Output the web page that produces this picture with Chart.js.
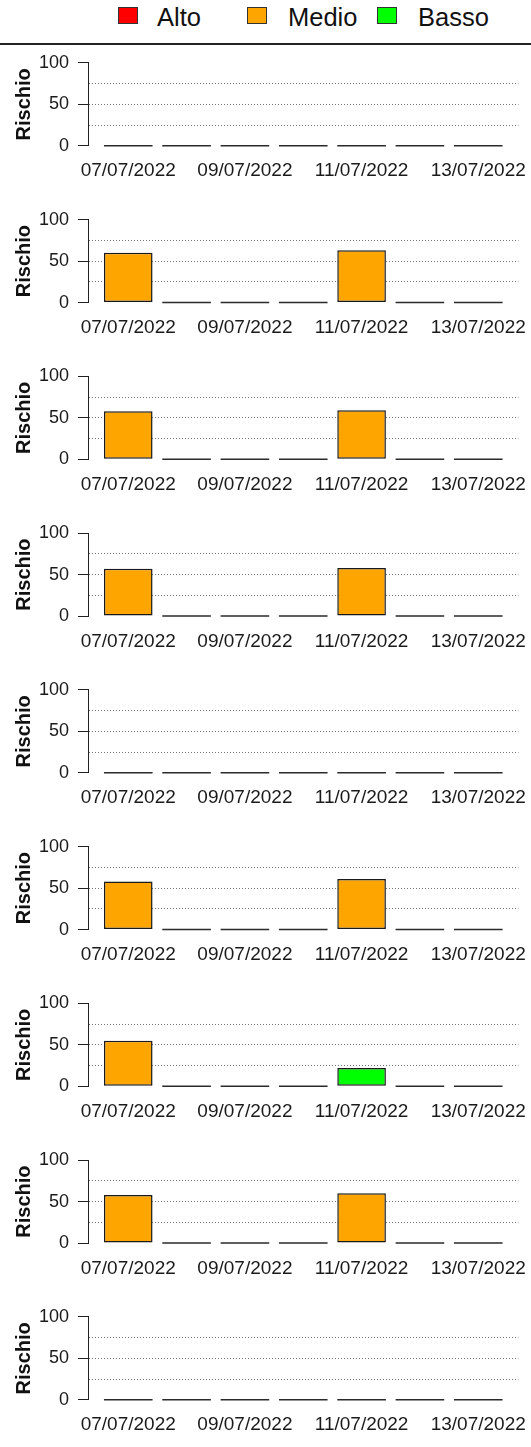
<!DOCTYPE html>
<html>
<head>
<meta charset="utf-8">
<script src="https://cdn.jsdelivr.net/npm/chart.js@4.4.0/dist/chart.umd.min.js"></script>
<style>
  body { margin: 0; width: 531px; height: 1447px; background: #fff; position: relative; overflow: hidden;
         font-family: "Liberation Sans", Arial, sans-serif; }
  .box { position: absolute; top: 7px; width: 18px; height: 15px; border: 1px solid #333; }
  .lab { position: absolute; top: 5px; font-size: 25.5px; line-height: 24px; color: #111; }
  #rule { position: absolute; left: 0; top: 43px; width: 531px; height: 2px; background: #222; }
  .panel { position: absolute; left: 0; width: 531px; height: 156px; }
</style>
</head>
<body>
<div id="legend"></div>
<div id="rule"></div>
<script>
// categories
const dates = ["07/07/2022", "08/07/2022", "09/07/2022", "10/07/2022", "11/07/2022", "12/07/2022", "13/07/2022"];
const riskLevels = ["Alto", "Medio", "Basso"];
const levelColors = ["#FF0000", "#FFA500", "#00FF00"];
const yTicks = [0, 25, 50, 75, 100];
const yLabels = [0, 50, 100];
const yDotted = [25, 50, 75];

// one pair of arrays per panel: risk value and risk level of each day
const values1 = [0, 0, 0, 0, 0, 0, 0];
const levels1 = ["Medio", "Medio", "Medio", "Medio", "Medio", "Medio", "Medio"];
const values2 = [60, 0, 0, 0, 63, 0, 0];
const levels2 = ["Medio", "Medio", "Medio", "Medio", "Medio", "Medio", "Medio"];
const values3 = [58, 0, 0, 0, 59, 0, 0];
const levels3 = ["Medio", "Medio", "Medio", "Medio", "Medio", "Medio", "Medio"];
const values4 = [57, 0, 0, 0, 58, 0, 0];
const levels4 = ["Medio", "Medio", "Medio", "Medio", "Medio", "Medio", "Medio"];
const values5 = [0, 0, 0, 0, 0, 0, 0];
const levels5 = ["Medio", "Medio", "Medio", "Medio", "Medio", "Medio", "Medio"];
const values6 = [58, 0, 0, 0, 61, 0, 0];
const levels6 = ["Medio", "Medio", "Medio", "Medio", "Medio", "Medio", "Medio"];
const values7 = [55, 0, 0, 0, 22, 0, 0];
const levels7 = ["Medio", "Medio", "Medio", "Medio", "Basso", "Medio", "Medio"];
const values8 = [58, 0, 0, 0, 60, 0, 0];
const levels8 = ["Medio", "Medio", "Medio", "Medio", "Medio", "Medio", "Medio"];
const values9 = [0, 0, 0, 0, 0, 0, 0];
const levels9 = ["Medio", "Medio", "Medio", "Medio", "Medio", "Medio", "Medio"];

const panels = [
  [values1, levels1], [values2, levels2], [values3, levels3],
  [values4, levels4], [values5, levels5], [values6, levels6],
  [values7, levels7], [values8, levels8], [values9, levels9]
];

// layout
const FONT = "'Liberation Sans', Arial, sans-serif";
const plotLeft = 88;
const plotRight = 518.5;
const areaTop0 = 62.8;     // y of the 100 line in the first panel
const areaH = 83;
const step = 156.75;
const panelH = 156;
const xAxisH = 40;

// legend
const legendBoxX = [118, 247, 377];
const legendTextX = [157, 288, 418];
const legend = document.getElementById("legend");
riskLevels.forEach((name, i) => {
  const b = document.createElement("div");
  b.className = "box";
  b.style.left = legendBoxX[i] + "px";
  b.style.background = levelColors[i];
  legend.appendChild(b);
  const t = document.createElement("div");
  t.className = "lab";
  t.style.left = legendTextX[i] + "px";
  t.textContent = name;
  legend.appendChild(t);
});

// R draws zero-height bars as a flat line
const zeroBars = {
  id: "zeroBars",
  afterDatasetsDraw(chart) {
    const ctx = chart.ctx;
    const ds = chart.data.datasets[0];
    chart.getDatasetMeta(0).data.forEach((bar, i) => {
      if (ds.data[i].y !== 0) return;
      const p = bar.getProps(["x", "y", "width"], true);
      ctx.save();
      ctx.strokeStyle = "#2a2a2a";
      ctx.lineWidth = 1.5;
      ctx.beginPath();
      ctx.moveTo(p.x - p.width / 2, p.y);
      ctx.lineTo(p.x + p.width / 2, p.y);
      ctx.stroke();
      ctx.restore();
    });
  }
};

const makePanel = (k, values, levels) => {
  const top = Math.floor(areaTop0 - 18 + k * step);
  const padTop = areaTop0 + k * step - top;
  const wrap = document.createElement("div");
  wrap.className = "panel";
  wrap.style.top = top + "px";
  const cv = document.createElement("canvas");
  wrap.appendChild(cv);
  document.body.appendChild(wrap);

  new Chart(cv, {
    type: "bar",
    data: {
      datasets: [{
        data: values.map((v, i) => ({ x: i, y: v })),
        backgroundColor: levels.map(l => levelColors[riskLevels.indexOf(l)]),
        borderColor: "#1a1a1a",
        borderWidth: 1.5,
        borderSkipped: false,
        barPercentage: 1 / 1.2,
        categoryPercentage: 1
      }]
    },
    options: {
      responsive: true,
      maintainAspectRatio: false,
      animation: false,
      layout: { padding: { top: padTop, left: 0, right: 531 - plotRight, bottom: panelH - padTop - areaH - xAxisH } },
      plugins: { legend: { display: false }, tooltip: { enabled: false } },
      scales: {
        x: {
          type: "linear",
          offset: false,
          min: -0.69,
          max: 6.69,
          afterBuildTicks: s => { s.ticks = dates.map((d, i) => ({ value: i })); },
          afterFit: s => { s.height = xAxisH; s.paddingLeft = 0; s.paddingRight = 0; },
          grid: { display: false, drawTicks: false },
          border: { display: false },
          ticks: {
            autoSkip: false, maxRotation: 0, padding: 14, color: "#1a1a1a",
            font: { family: FONT, size: 19 },
            callback: (v, i) => (i % 2 === 0 ? dates[v] : "")
          }
        },
        y: {
          min: 0,
          max: 100,
          afterBuildTicks: s => { s.ticks = yTicks.map(v => ({ value: v })); },
          afterFit: s => { s.width = plotLeft; s.paddingTop = 0; s.paddingBottom = 0; },
          grid: {
            color: c => (yDotted.includes(c.tick.value) ? "#777" : "rgba(0,0,0,0)"),
            tickColor: c => (yLabels.includes(c.tick.value) ? "#222" : "rgba(0,0,0,0)"),
            tickLength: 10,
            lineWidth: 1
          },
          border: { color: "#222", width: 1, dash: [1, 2] },
          ticks: {
            autoSkip: false, padding: 9, color: "#1a1a1a",
            font: { family: FONT, size: 18 },
            callback: v => (yLabels.includes(v) ? String(v) : "")
          },
          title: {
            display: true, text: "Rischio", color: "#111",
            font: { family: FONT, size: 20, weight: "bold", lineHeight: 1 },
            padding: { top: 14, bottom: 0 }
          }
        }
      }
    },
    plugins: [zeroBars]
  });
};

panels.forEach((p, k) => makePanel(k, p[0], p[1]));
</script>
</body>
</html>
